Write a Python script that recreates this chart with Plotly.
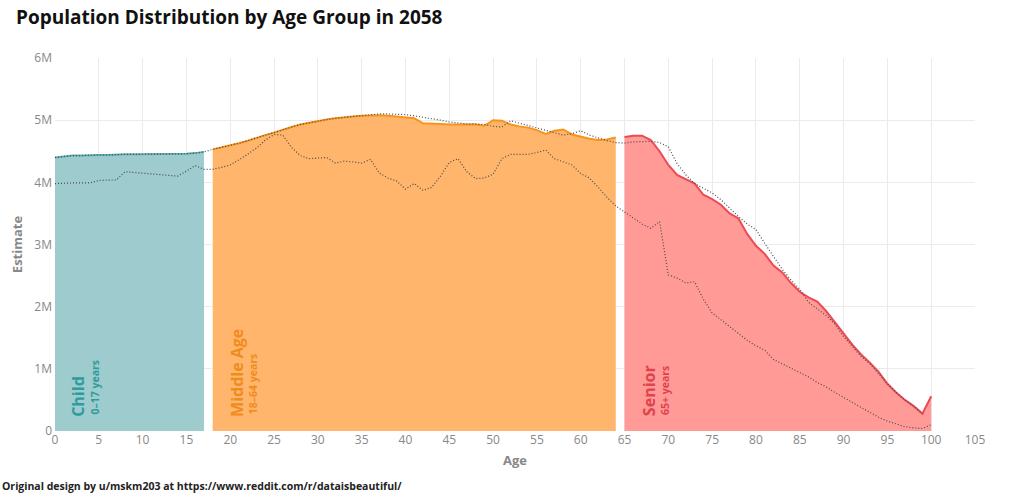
import plotly.graph_objects as go

# ======================================
# Datos (estimaciones, en millones)
# ======================================

child_age = list(range(0, 18))
child_pop = [4.40, 4.42, 4.43, 4.43, 4.44, 4.44, 4.44, 4.45, 4.45, 4.45,
             4.45, 4.45, 4.45, 4.45, 4.46, 4.46, 4.47, 4.49]

middle_age = list(range(18, 65))
middle_pop = [4.53, 4.56, 4.59, 4.63, 4.67, 4.72, 4.76, 4.80, 4.85, 4.89,
              4.93, 4.96, 4.99, 5.01, 5.03, 5.05, 5.06, 5.07, 5.08, 5.08,
              5.07, 5.06, 5.05, 5.03, 4.95, 4.95, 4.94, 4.93, 4.93, 4.92,
              4.93, 4.91, 5.00, 4.99, 4.93, 4.90, 4.88, 4.84, 4.78, 4.83,
              4.85, 4.77, 4.73, 4.70, 4.68, 4.69, 4.72]

senior_age = list(range(65, 101))
senior_pop = [4.73, 4.75, 4.75, 4.68, 4.50, 4.28, 4.12, 4.05, 3.98, 3.80,
              3.73, 3.64, 3.50, 3.42, 3.17, 2.98, 2.85, 2.66, 2.55, 2.38,
              2.24, 2.15, 2.08, 1.93, 1.75, 1.56, 1.39, 1.23, 1.10, 0.95,
              0.76, 0.62, 0.50, 0.40, 0.28, 0.56]

# líneas de referencia punteadas
upper_age = list(range(0, 100))
upper_pop = child_pop + middle_pop[:18] + [
    5.09, 5.10, 5.10, 5.10, 5.09, 5.07, 5.05, 5.03, 5.00, 4.97,
    4.95, 4.94, 4.94, 4.93, 4.90, 4.89, 4.99, 4.95, 4.92, 4.88,
    4.84, 4.80, 4.76, 4.78, 4.83, 4.76, 4.71, 4.67, 4.64, 4.63,
    4.65, 4.66, 4.66, 4.64, 4.57, 4.30, 4.12, 3.98, 3.90, 3.83,
    3.72, 3.58, 3.45, 3.33, 3.24, 3.02, 2.80, 2.60, 2.43, 2.28,
    2.07, 1.97, 1.86, 1.72, 1.52, 1.36, 1.20, 1.08, 0.92, 0.76,
    0.62, 0.50, 0.40, 0.28]

lower_age = list(range(0, 101))
lower_pop = [3.98, 3.99, 3.99, 3.99, 3.99, 4.03, 4.04, 4.04, 4.17, 4.16,
             4.14, 4.13, 4.13, 4.11, 4.10, 4.18, 4.27, 4.21, 4.21, 4.24,
             4.28, 4.36, 4.45, 4.55, 4.68, 4.77, 4.76, 4.56, 4.43, 4.38,
             4.39, 4.40, 4.31, 4.34, 4.33, 4.31, 4.37, 4.15, 4.07, 4.02,
             3.89, 3.98, 3.87, 3.92, 4.10, 4.32, 4.38, 4.17, 4.06, 4.07,
             4.13, 4.38, 4.45, 4.45, 4.45, 4.48, 4.52, 4.38, 4.33, 4.28,
             4.14, 4.07, 3.92, 3.76, 3.62, 3.52, 3.43, 3.33, 3.26, 3.37,
             2.51, 2.46, 2.38, 2.40, 2.12, 1.90, 1.79, 1.68, 1.57, 1.46,
             1.37, 1.30, 1.15, 1.08, 1.01, 0.94, 0.87, 0.78, 0.71, 0.62,
             0.54, 0.45, 0.37, 0.29, 0.22, 0.16, 0.11, 0.07, 0.05, 0.04,
             0.10]

y_ticks = [0, 1e6, 2e6, 3e6, 4e6, 5e6, 6e6]
y_labels = ["0", "1M", "2M", "3M", "4M", "5M", "6M"]

def to_units(vals):
    return [v * 1e6 for v in vals]

# ======================================
# Figura
# ======================================

fig = go.Figure()

groups = [
    (child_age, child_pop, "#9dcbce", "#5fb0b0"),
    (middle_age, middle_pop, "#ffb56b", "#f7941d"),
    (senior_age, senior_pop, "#ff9a96", "#ec4b54"),
]
for ages, pops, fill, line in groups:
    fig.add_trace(go.Scatter(
        x=ages, y=to_units(pops), mode="lines", fill="tozeroy",
        fillcolor=fill, line=dict(color=line, width=2), showlegend=False
    ))

for ages, pops in [(upper_age, upper_pop), (lower_age, lower_pop)]:
    fig.add_trace(go.Scatter(
        x=ages, y=to_units(pops), mode="lines",
        line=dict(color="#4a4a4a", width=1.2, dash="1px,2px"), showlegend=False
    ))

# etiquetas de grupo
labels = [
    ("Child", "0–17 years", 2.6, 4.6, "#2e9c9a"),
    ("Middle Age", "18–64 years", 20.7, 22.6, "#f08c1e"),
    ("Senior", "65+ years", 67.8, 69.6, "#e0434d"),
]
for name, rng, x1, x2, col in labels:
    fig.add_annotation(x=x1, y=0.2e6, text="<b>" + name + "</b>", textangle=-90,
                       showarrow=False, xanchor="center", yanchor="bottom",
                       font=dict(size=16, color=col))
    fig.add_annotation(x=x2, y=0.23e6, text="<b>" + rng + "</b>", textangle=-90,
                       showarrow=False, xanchor="center", yanchor="bottom",
                       font=dict(size=10.5, color=col))

fig.add_annotation(
    xref="paper", yref="paper", x=-0.0598, y=-0.147, xanchor="left", yanchor="middle",
    text="<b>Original design by u/mskm203 at https://www.reddit.com/r/dataisbeautiful/</b>",
    showarrow=False, font=dict(size=10.5, color="#222222")
)

fig.update_layout(
    width=1024, height=494,
    margin=dict(l=55, r=49, t=58, b=63),
    paper_bgcolor="white", plot_bgcolor="white",
    font=dict(family="Open Sans, sans-serif", color="#888888", size=12),
    title=dict(text="<b>Population Distribution by Age Group in 2058</b>",
               x=16 / 1024, xanchor="left", y=1 - 17 / 494, yanchor="middle",
               font=dict(size=19, color="#111111")),
    xaxis=dict(range=[0, 105], tickvals=list(range(0, 106, 5)),
               showgrid=True, gridcolor="#ebebeb", zeroline=False,
               showline=False, ticks="",
               title=dict(text="<b>Age</b>", font=dict(size=13, color="#888888"), standoff=8)),
    yaxis=dict(range=[0, 6e6], tickvals=y_ticks, ticktext=y_labels,
               showgrid=True, gridcolor="#ebebeb", zeroline=False,
               showline=False, ticks="", ticklabelstandoff=2,
               title=dict(text="<b>Estimate</b>", font=dict(size=13, color="#888888"), standoff=8)),
)

# quitar el margen del body para que la figura empiece en (0, 0)
fig.write_html("out.html", config={"displayModeBar": False},
               post_script="document.body.style.margin='0';")
